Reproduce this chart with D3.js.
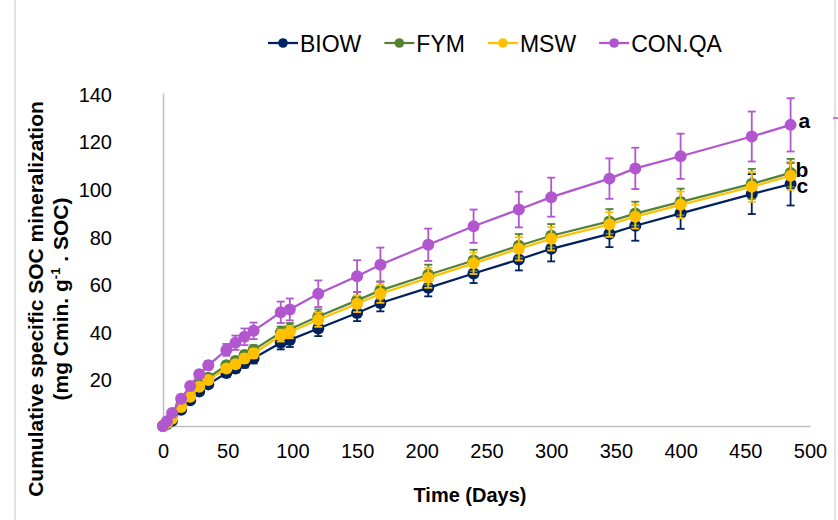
<!DOCTYPE html>
<html><head><meta charset="utf-8">
<script src="https://cdn.jsdelivr.net/npm/d3@7"></script>
<style>html,body{margin:0;padding:0;background:#fff;}svg{display:block;font-family:"Liberation Sans",Arial,sans-serif;}</style>
</head><body>
<svg id="chart" width="838" height="520"></svg>
<script>
const days = [0,3,7,14,21,28,35,49,56,63,70,91,98,120,150,168,205,240,275,300,345,365,400,455,485];
const seriesNames = ["BIOW","FYM","MSW","CON.QA"];
const biow   = [0,0.8,2.2,6.8,10.8,14.5,17.5,22.3,24.2,26.5,28.5,35,36.2,41,47.5,51.7,58.1,64.1,70,74.5,80.8,84.2,89.4,97.5,101.7];
const biowErr= [0,0.2,0.3,0.6,0.8,1,1.2,1.6,1.8,2,2.2,2.8,3,3.2,3.4,3.5,3.6,4,4.6,5.3,5.6,6.3,6.5,8.4,9];
const fym    = [0,1.4,3.4,8.7,13,17.3,20.3,25.5,27.3,29.8,32,39.3,40.7,46,52.8,57,63.6,69.6,75.8,80,86,89.3,94.2,101.8,106.4];
const fymErr = [0,0.1,0.2,0.4,0.6,0.8,1,1.5,1.6,1.8,2,2.5,2.6,3,3.5,3.8,4.2,4.5,4.9,4.9,5.2,5,5.6,6.3,5.9];
const msw    = [0,1.2,3,8,12.3,16.5,19.3,24.2,26,28.4,30.5,38,39.5,44.7,51.4,55.6,62.3,68.4,74.5,78.7,84.7,88,93,100.6,105.2];
const mswErr = [0,0.1,0.2,0.4,0.6,0.8,1,1.5,1.6,1.8,2,2.5,2.6,3,3.5,3.8,4.2,4.5,4.9,4.9,5.2,5,5.6,6.3,5.9];
const conqa  = [0,2,5.5,11.5,16.8,21.8,25.5,32,35,37.5,40,47.8,49,55.6,63,67.8,76.2,84,91,96.2,104,108.3,113.4,121.7,126.6];
const conqaErr=[0,0.3,0.5,1,1.2,1.5,1.8,2.5,3,3.5,3.5,4.5,4.6,5.6,6.7,7.2,6.8,7,7.5,8.2,8.5,8.7,9.5,10.5,11.2];
const xTicks = [0,50,100,150,200,250,300,350,400,450,500];
const yTicks = [20,40,60,80,100,120,140];
const sigLetters = ["c","b","b","a"];
const colors = ["#002060","#548235","#FFC000","#B256D0"];

const svg = d3.select("#chart");
const x = d3.scaleLinear().domain([0,500]).range([163,810]);
const y = d3.scaleLinear().domain([0,140]).range([426,93]);

// frame lines
svg.append("line").attr("x1",15).attr("x2",15).attr("y1",0).attr("y2",520).attr("stroke","#d9d9d9").attr("stroke-width",1.5);
svg.append("line").attr("x1",835).attr("x2",835).attr("y1",0).attr("y2",520).attr("stroke","#d9d9d9").attr("stroke-width",1.5);
svg.append("line").attr("x1",833).attr("x2",838).attr("y1",118).attr("y2",118).attr("stroke",colors[3]).attr("stroke-width",1.5);

// axes
const xAxis = svg.append("g").attr("transform","translate(0,426)")
  .call(d3.axisBottom(x).tickValues(xTicks).tickSize(0).tickPadding(18));
xAxis.select(".domain").attr("stroke","#bfbfbf").attr("stroke-width",1.5);
xAxis.selectAll("text").attr("font-size",20).attr("fill","#000").attr("font-family","Liberation Sans, Arial, sans-serif");

const yAxis = svg.append("g").attr("transform","translate(163,0)")
  .call(d3.axisLeft(y).tickValues(yTicks).tickSize(0).tickPadding(51));
yAxis.select(".domain").attr("stroke","#bfbfbf").attr("stroke-width",1.5);
yAxis.selectAll("text").attr("font-size",20).attr("fill","#000").attr("font-family","Liberation Sans, Arial, sans-serif").attr("dy","0.42em");

// series
const vals = [biow,fym,msw,conqa];
const errs = [biowErr,fymErr,mswErr,conqaErr];
const line = d3.line().x(d=>x(d.t)).y(d=>y(d.v));
vals.forEach((arr,i)=>{
  const data = days.map((t,j)=>({t:t,v:arr[j],e:errs[i][j]}));
  const g = svg.append("g");
  g.append("path").datum(data).attr("d",line).attr("fill","none").attr("stroke",colors[i]).attr("stroke-width",2.25);
  const eb = g.selectAll(".eb").data(data.filter(d=>d.e>0)).enter().append("g");
  eb.append("line").attr("x1",d=>x(d.t)).attr("x2",d=>x(d.t)).attr("y1",d=>y(d.v+d.e)).attr("y2",d=>y(d.v-d.e)).attr("stroke",colors[i]).attr("stroke-width",1.8);
  eb.append("line").attr("x1",d=>x(d.t)-4).attr("x2",d=>x(d.t)+4).attr("y1",d=>y(d.v+d.e)).attr("y2",d=>y(d.v+d.e)).attr("stroke",colors[i]).attr("stroke-width",1.8);
  eb.append("line").attr("x1",d=>x(d.t)-4).attr("x2",d=>x(d.t)+4).attr("y1",d=>y(d.v-d.e)).attr("y2",d=>y(d.v-d.e)).attr("stroke",colors[i]).attr("stroke-width",1.8);
  g.selectAll("circle").data(data).enter().append("circle").attr("cx",d=>x(d.t)).attr("cy",d=>y(d.v)).attr("r",6).attr("fill",colors[i]);
});

// significance letters
const lastX = x(days[days.length-1]);
svg.append("text").attr("x",lastX+8).attr("y",128).attr("font-size",21).attr("font-weight","bold").attr("fill","#000").text(sigLetters[3]);
const bc = svg.append("text").attr("font-size",21).attr("font-weight","bold").attr("fill","#000");
bc.append("tspan").attr("x",lastX+5).attr("y",177).text(sigLetters[1]);
bc.append("tspan").attr("x",lastX+6).attr("y",193).text(sigLetters[0]);

// legend
let lx = 268;
seriesNames.forEach((n,i)=>{
  svg.append("line").attr("x1",lx).attr("x2",lx+30).attr("y1",43).attr("y2",43).attr("stroke",colors[i]).attr("stroke-width",2.25);
  svg.append("circle").attr("cx",lx+15).attr("cy",43).attr("r",4.8).attr("fill",colors[i]);
  const t = svg.append("text").attr("x",lx+32).attr("y",51.5).attr("font-size",23).attr("fill","#000").text(n);
  lx += 32 + t.node().getComputedTextLength() + 23;
});

// axis titles
svg.append("text").attr("x",470).attr("y",502).attr("text-anchor","middle").attr("font-size",20).attr("font-weight","bold").text("Time (Days)");
svg.append("text").attr("transform","translate(43,299) rotate(-90)").attr("text-anchor","middle").attr("font-size",21).attr("font-weight","bold").text("Cumulative specific SOC mineralization");
const yt2 = svg.append("text").attr("transform","translate(68,299) rotate(-90)").attr("text-anchor","middle").attr("font-size",21).attr("font-weight","bold");
yt2.append("tspan").text("(mg Cmin. g");
yt2.append("tspan").attr("font-size",13).attr("dy",-8).text("-1");
yt2.append("tspan").attr("dy",8).text(" . SOC)");
</script>
</body></html>
